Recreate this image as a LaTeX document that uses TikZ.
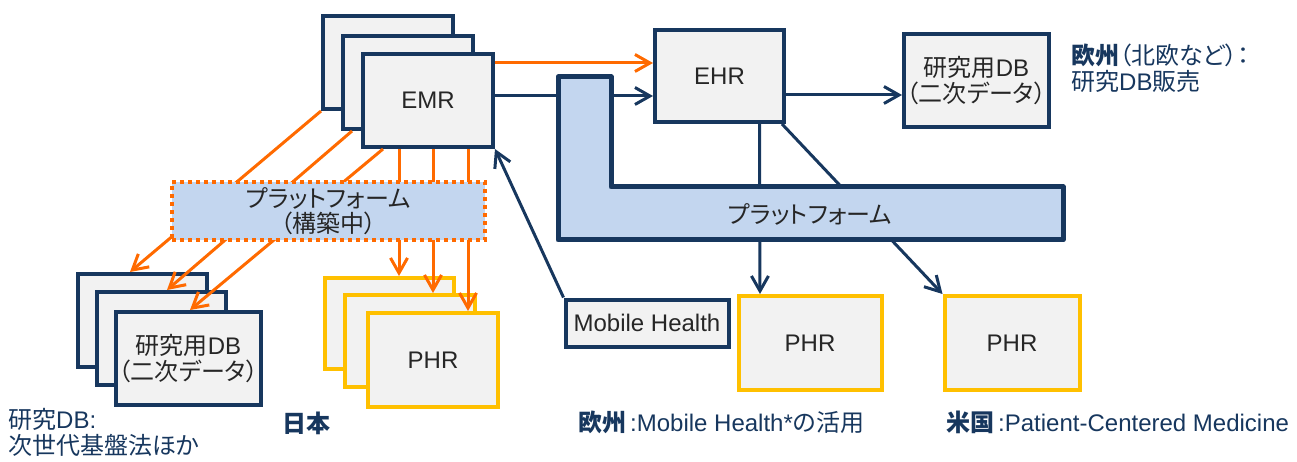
\documentclass[tikz,border=0pt]{standalone}
\usepackage{fontspec}
\setmainfont{Liberation Sans}
\newfontfamily\jp[RawFeature={+palt}]{Noto Sans CJK JP}
\usetikzlibrary{arrows.meta}
\newcommand\J[1]{{\jp #1}}
\newcommand\fs{\fontsize{24}{29}\selectfont}
\definecolor{navy}{HTML}{17375E}
\definecolor{org}{HTML}{FF6A00}
\definecolor{yel}{HTML}{FFC000}
\definecolor{boxgray}{HTML}{F2F2F2}
\definecolor{platblue}{HTML}{C3D6EF}
\definecolor{txt}{HTML}{262626}
\tikzset{
  nbox/.style={draw=navy, fill=boxgray, line width=4pt, inner sep=0pt, font=\fs, text=txt, align=center},
  ybox/.style={draw=yel, fill=boxgray, line width=4pt, inner sep=0pt, font=\fs, text=txt, align=center},
  oline/.style={draw=org, line width=3pt},
  nline/.style={draw=navy, line width=3pt},
  barb/.style={-{Straight Barb[length=15pt,width=17pt]}},
  lbl/.style={font=\fs, text=navy, inner sep=0pt, align=left}
}
\begin{document}
\begin{tikzpicture}[x=1pt,y=-1pt]
\useasboundingbox (0,0) rectangle (1297,462);
% EMR stack
\node[nbox, minimum width=130pt, minimum height=93pt] (emr1) at (388,62.5) {};
\node[nbox, minimum width=130pt, minimum height=93pt] (emr2) at (408,82.5) {};
\node[nbox, minimum width=130pt, minimum height=93pt] (emr3) at (428,100.5) {EMR};
% research DB stack (left)
\node[nbox, minimum width=129pt, minimum height=93pt] (db1) at (142.5,320.5) {};
\node[nbox, minimum width=129pt, minimum height=93pt] (db2) at (161.5,338.5) {};
\node[nbox, minimum width=145pt, minimum height=93pt] (db3) at (188.5,358.5) {\J{研究用}DB\\[-3pt]\J{（二次データ）}};
% PHR stack (left)
\node[ybox, minimum width=129pt, minimum height=91pt] (ph1) at (389.5,323.5) {};
\node[ybox, minimum width=130pt, minimum height=92pt] (ph2) at (410,341) {};
\node[ybox, minimum width=130pt, minimum height=94pt] (ph3) at (433,360) {PHR};
% orange connectors
\draw[oline, barb] (emr1.south west) -- ([xshift=-12.5pt]db1.north);
\draw[oline, barb] ([xshift=11pt]emr2.south west) -- ([xshift=5.5pt]db2.north);
\draw[oline, barb] ([xshift=22pt]emr3.south west) -- ([xshift=1.5pt]db3.north);
\draw[oline, barb] ([xshift=-29pt]emr3.south) -- ([xshift=9.5pt]ph1.north);
\draw[oline, barb] ([xshift=5pt]emr3.south) -- ([xshift=23pt]ph2.north);
\draw[oline, barb] ([xshift=40pt]emr3.south) -- ([xshift=35pt]ph3.north);
% left platform
\node[draw=org, line width=4pt, dash pattern=on 4pt off 4pt, fill=platblue,
      minimum width=313pt, minimum height=58pt, inner sep=0pt, font=\fs, text=txt, align=center]
      (lplat) at (328.5,211) {\J{プラットフォーム}\\[-4pt]\J{（構築中）}};
% right side
\node[nbox, minimum width=129pt, minimum height=92pt] (ehr) at (719.5,76) {EHR};
\node[nbox, minimum width=145pt, minimum height=93pt] (rdb) at (976.5,80.5) {\J{研究用}DB\\[-3pt]\J{（二次データ）}};
\node[nbox, minimum width=163pt, minimum height=47pt] (mh) at (647,323) {Mobile Health};
\node[ybox, minimum width=143pt, minimum height=94pt] (phm) at (810,343) {PHR};
\node[ybox, minimum width=135pt, minimum height=94pt] (phr) at (1012,343) {PHR};
\draw[oline, barb] ([yshift=37.5pt]emr3.east) -- ([yshift=13pt]ehr.west);
\draw[nline, barb] ([yshift=4.5pt]emr3.east) -- ([yshift=-20pt]ehr.west);
\draw[nline, barb] ([yshift=-19pt]ehr.east) -- ([yshift=-14.5pt]rdb.west);
\draw[nline, barb] ([xshift=40pt]ehr.south) -- ([xshift=-50pt]phm.north);
\draw[nline, barb] ([xshift=-4pt]ehr.south east) -- (phr.north west);
\draw[nline, barb] (mh.north west) -- (emr3.south east);
% L-shaped platform
\draw[draw=navy, fill=platblue, line width=5pt, line join=round]
  (558,77) -- (611,77) -- (611,187) -- (1063,187) -- (1063,240) -- (558,240) -- cycle;
\node[font=\fs, text=txt, inner sep=0pt] (rplat) at (810,214) {\J{プラットフォーム}};
% labels
\node[lbl, anchor=north west] (l1) at (8,408) {\J{研究}DB:\\[-3pt]\J{次世代基盤法ほか}};
\node[lbl, anchor=west] (l2) at (282,423) {\J{\bfseries 日本}};
\node[lbl, anchor=west] (l3) at (578,422) {\J{\bfseries 欧州}\,:Mobile Health*\J{の活用}};
\node[lbl, anchor=west] (l4) at (946,422) {\J{\bfseries 米国}\,:Patient-Centered Medicine};
\node[lbl, anchor=north west] (l5) at (1071,44) {\J{{\bfseries 欧州}（北欧など）：}\\[-3pt]\J{研究}DB\J{販売}};
\end{tikzpicture}
\end{document}
